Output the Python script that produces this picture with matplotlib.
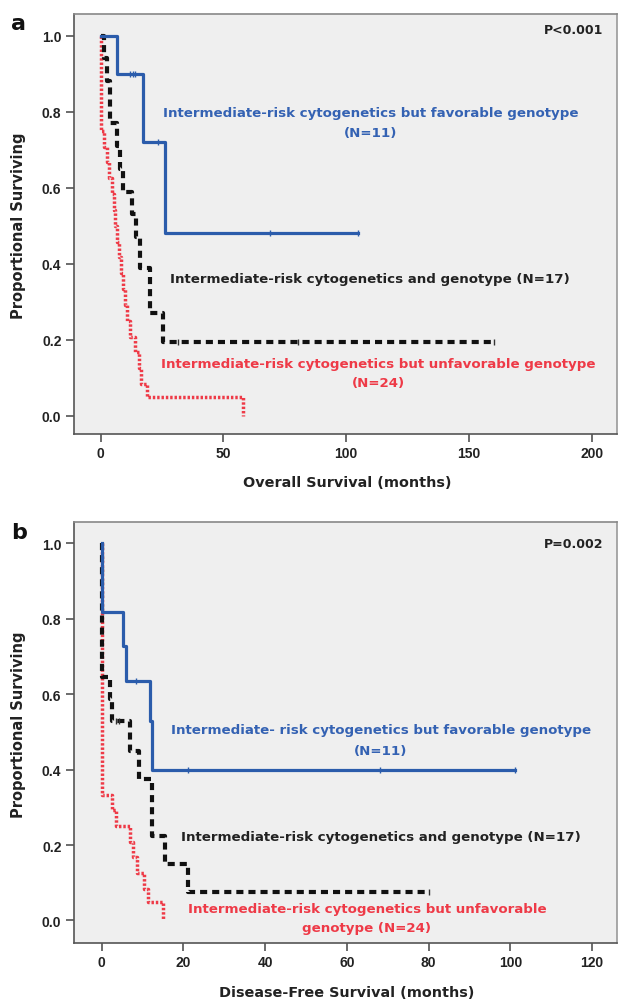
import matplotlib
matplotlib.use("Agg")
import matplotlib.pyplot as plt

# ---- data: Kaplan-Meier step points (time in months, proportion surviving) ----
# panel a: overall survival
fav_os_t = [0, 6.5, 17.4, 26.2, 104.6]
fav_os_s = [1.0, 0.90, 0.72, 0.48, 0.48]
fav_os_cens_t = [12.0, 13.0, 14.0, 23.5, 69.0, 104.6]
fav_os_cens_s = [0.90, 0.90, 0.90, 0.72, 0.48, 0.48]

int_os_t = [0, 1.5, 2.5, 3.8, 6.5, 8.0, 9.2, 12.6, 14.5, 16.0, 20.1, 25.3, 160]
int_os_s = [1.0, 0.94, 0.88, 0.77, 0.71, 0.65, 0.59, 0.53, 0.47, 0.39, 0.27, 0.195, 0.195]
int_os_cens_t = [31.6, 80.5, 160]
int_os_cens_s = [0.195, 0.195, 0.195]

unf_os_t = [0, 0.3, 1.5, 2.5, 3.5, 4.5, 5.2, 5.8, 6.8, 7.5, 8.2, 9.2, 9.9,
            10.6, 11.9, 14.0, 15.5, 16.5, 18.7, 58.0]
unf_os_s = [1.0, 0.75, 0.708, 0.667, 0.625, 0.583, 0.542, 0.50, 0.458, 0.417,
            0.375, 0.333, 0.292, 0.25, 0.208, 0.167, 0.125, 0.083, 0.05, 0.0]

# panel b: disease-free survival
fav_dfs_t = [0, 0.05, 5.1, 5.9, 11.8, 12.2, 101.2]
fav_dfs_s = [1.0, 0.818, 0.727, 0.636, 0.53, 0.40, 0.40]
fav_dfs_cens_t = [8.4, 21.0, 68.0, 101.2]
fav_dfs_cens_s = [0.636, 0.40, 0.40, 0.40]

int_dfs_t = [0, 0.1, 1.9, 2.5, 6.9, 9.0, 12.2, 15.5, 21.2, 80.0]
int_dfs_s = [1.0, 0.647, 0.588, 0.529, 0.45, 0.375, 0.225, 0.15, 0.075, 0.075]
int_dfs_cens_t = [3.5, 4.3, 80.0]
int_dfs_cens_s = [0.529, 0.529, 0.075]

unf_dfs_t = [0, 0.15, 2.5, 3.6, 6.9, 7.6, 8.6, 10.4, 11.2, 15.0]
unf_dfs_s = [1.0, 0.333, 0.292, 0.25, 0.208, 0.167, 0.125, 0.083, 0.05, 0.0]

yticks = [0.0, 0.2, 0.4, 0.6, 0.8, 1.0]
xticks_os = [0, 50, 100, 150, 200]
xticks_dfs = [0, 20, 40, 60, 80, 100, 120]

BLUE = "#2b5cab"
BLUE_TXT = "#3462b3"
RED = "#ee3a47"
BLACK = "#111111"

W, H = 618, 1003
fig = plt.figure(figsize=(W / 100, H / 100), dpi=100)
BOLD = ["DejaVu Sans"]
NARROW = ["Liberation Sans Narrow", "Liberation Sans", "DejaVu Sans"]


def px(x, y):
    return x / W, 1 - y / H


def make_axes(left, top, right, bottom):
    ax = fig.add_axes([left / W, 1 - bottom / H, (right - left) / W, (bottom - top) / H])
    ax.set_facecolor("#efefef")
    for s in ax.spines.values():
        s.set_color("#555555")
        s.set_linewidth(1.2)
    ax.spines["top"].set_color("#888888")
    ax.spines["right"].set_color("#999999")
    ax.tick_params(direction="out", length=6, width=1.1, color="#444444", pad=3)
    return ax


def curves(ax, fav, inter, unf):
    ax.step(fav[0], fav[1], where="post", color=BLUE, lw=2.3, zorder=4)
    ax.plot(fav[2], fav[3], ls="none", marker="|", ms=5, mew=1.0, color=BLUE, zorder=5)
    l, = ax.step(inter[0], inter[1], where="post", color=BLACK, lw=3.0, zorder=3)
    l.set_dashes((1.7, 1.2))
    ax.plot(inter[2], inter[3], ls="none", marker="|", ms=5, mew=1.0, color="#333333", zorder=5)
    r, = ax.step(unf[0], unf[1], where="post", color=RED, lw=2.5, zorder=2)
    r.set_dashes((0.7, 0.55))


def style_ticks(ax, xticks):
    ax.set_yticks(yticks)
    ax.set_yticklabels([f"{v:.1f}" for v in yticks])
    ax.set_xticks(xticks)
    ax.set_xticklabels([str(v) for v in xticks])
    for t in ax.get_xticklabels() + ax.get_yticklabels():
        t.set_family(NARROW)
        t.set_fontweight("bold")
        t.set_fontsize(10)
        t.set_color("#222222")


# ---- panel a ----
ax1 = make_axes(74, 15, 617, 435)
curves(ax1, (fav_os_t, fav_os_s, fav_os_cens_t, fav_os_cens_s),
       (int_os_t, int_os_s, int_os_cens_t, int_os_cens_s),
       (unf_os_t, unf_os_s))
ax1.set_xlim(-10.9, 210.3)
ax1.set_ylim(-0.048, 1.057)
style_ticks(ax1, xticks_os)

# ---- panel b ----
ax2 = make_axes(74, 523, 617, 944)
curves(ax2, (fav_dfs_t, fav_dfs_s, fav_dfs_cens_t, fav_dfs_cens_s),
       (int_dfs_t, int_dfs_s, int_dfs_cens_t, int_dfs_cens_s),
       (unf_dfs_t, unf_dfs_s))
ax2.set_xlim(-6.8, 126.1)
ax2.set_ylim(-0.06, 1.057)
style_ticks(ax2, xticks_dfs)

# ---- text ----
def txt(x, y, s, color=BLACK, size=9.6, ha="center", **kw):
    fig.text(*px(x, y), s, color=color, fontsize=size, fontweight="bold",
             family=BOLD, ha=ha, va="center", **kw)


txt(19, 24, "a", size=16)
txt(19, 533, "b", size=16)
txt(603, 31, "P<0.001", color="#222222", ha="right", size=9.0)
txt(603, 545, "P=0.002", color="#222222", ha="right", size=9.0)

txt(371, 113, "Intermediate-risk cytogenetics but favorable genotype", color=BLUE_TXT)
txt(371, 133, "(N=11)", color=BLUE_TXT)
txt(370, 280, "Intermediate-risk cytogenetics and genotype (N=17)", color="#222222")
txt(378, 365, "Intermediate-risk cytogenetics but unfavorable genotype", color=RED)
txt(378, 384, "(N=24)", color=RED)

txt(381, 731, "Intermediate- risk cytogenetics but favorable genotype", color=BLUE_TXT)
txt(381, 752, "(N=11)", color=BLUE_TXT)
txt(381, 838, "Intermediate-risk cytogenetics and genotype (N=17)", color="#222222")
txt(367, 910, "Intermediate-risk cytogenetics but unfavorable", color=RED)
txt(367, 929, "genotype (N=24)", color=RED)

txt(19, 226, "Proportional Surviving", color="#222222", size=10.5, rotation=90)
txt(19, 725, "Proportional Surviving", color="#222222", size=10.5, rotation=90)
txt(347, 483, "Overall Survival (months)", color="#222222", size=10.4)
txt(347, 993, "Disease-Free Survival (months)", color="#222222", size=10.4)

fig.savefig("out.png", dpi=100)
